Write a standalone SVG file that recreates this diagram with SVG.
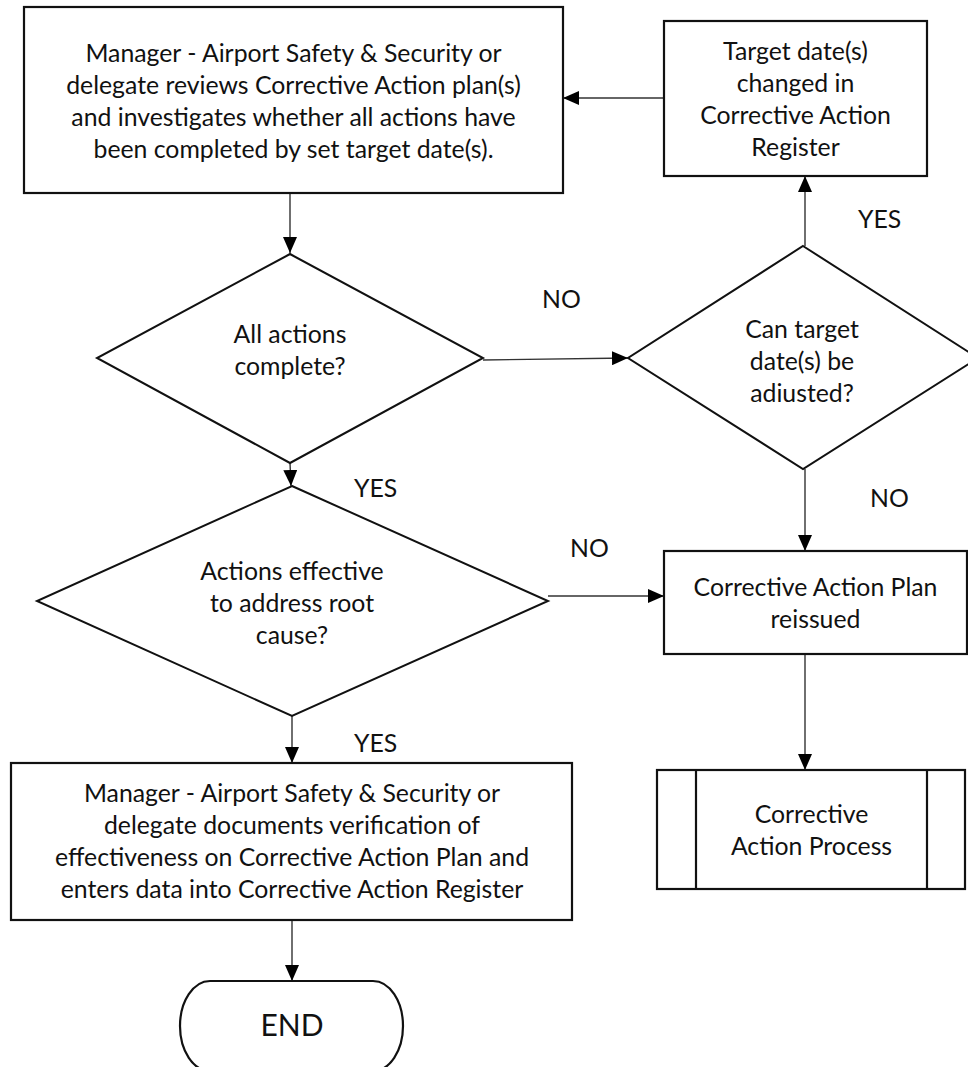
<svg xmlns="http://www.w3.org/2000/svg" width="968" height="1067" viewBox="0 0 968 1067">
<defs>
<style>
.box{fill:#fff;stroke:#111;stroke-width:2.2}
.dia{fill:#fff;stroke:#111;stroke-width:2}
.con{fill:none;stroke:#333;stroke-width:1.4;marker-end:url(#ah)}
text{font-family:Lato,"Open Sans","Liberation Sans",sans-serif;font-size:24.8px;fill:#111;text-anchor:middle}
.lbl{text-anchor:start}
.end{font-size:30px}
</style>
<marker id="ah" viewBox="0 0 16 14" refX="16" refY="7" markerWidth="16" markerHeight="14" markerUnits="userSpaceOnUse" orient="auto">
<path d="M0,0 L16,7 L0,14 z" fill="#000"/>
</marker>
</defs>
<rect width="968" height="1067" fill="#fff"/>
<g id="connectors">
<path class="con" d="M290,193 L290,253"/>
<path class="con" d="M483,360 L628,358"/>
<path class="con" d="M805,246 L805,176"/>
<path class="con" d="M664,98 L563,98"/>
<path class="con" d="M290,463 L291,486"/>
<path class="con" d="M548,596 L664,596"/>
<path class="con" d="M805,469 L805,551"/>
<path class="con" d="M805,654 L805,770"/>
<path class="con" d="M292,716 L292,763"/>
<path class="con" d="M292,920 L292,981"/>
</g>
<g id="labels">
<text class="lbl" x="858" y="228">YES</text>
<text class="lbl" x="542" y="308">NO</text>
<text class="lbl" x="354" y="497">YES</text>
<text class="lbl" x="570" y="557">NO</text>
<text class="lbl" x="870" y="507">NO</text>
<text class="lbl" x="354" y="752">YES</text>
</g>
<g id="review">
<rect class="box" x="24" y="7" width="539" height="186"/>
<text x="293.5" y="62">Manager - Airport Safety &amp; Security or</text>
<text x="293.5" y="94">delegate reviews Corrective Action plan(s)</text>
<text x="293.5" y="126">and investigates whether all actions have</text>
<text x="293.5" y="158">been completed by set target date(s).</text>
</g>
<g id="changed">
<rect class="box" x="664" y="21" width="263" height="155"/>
<text x="795.5" y="60">Target date(s)</text>
<text x="795.5" y="92">changed in</text>
<text x="795.5" y="124">Corrective Action</text>
<text x="795.5" y="156">Register</text>
</g>
<g id="allcomplete">
<polygon class="dia" points="290,254 483,358 290,463 97,358"/>
<text x="290" y="343">All actions</text>
<text x="290" y="375">complete?</text>
</g>
<g id="canadjust">
<polygon class="dia" points="803,246 978,358 803,469 628,358"/>
<text x="802" y="338">Can target</text>
<text x="802" y="370">date(s) be</text>
<text x="802" y="402">adiusted?</text>
</g>
<g id="effective">
<polygon class="dia" points="292,486 548,601 292,716 37,601"/>
<text x="292" y="580">Actions effective</text>
<text x="292" y="612">to address root</text>
<text x="292" y="644">cause?</text>
</g>
<g id="reissued">
<rect class="box" x="664" y="551" width="303" height="103"/>
<text x="815.5" y="596">Corrective Action Plan</text>
<text x="815.5" y="628">reissued</text>
</g>
<g id="process">
<rect class="box" x="657" y="770" width="308" height="119"/>
<line class="box" x1="696" y1="770" x2="696" y2="889"/>
<line class="box" x1="927" y1="770" x2="927" y2="889"/>
<text x="811.5" y="823">Corrective</text>
<text x="811.5" y="855">Action Process</text>
</g>
<g id="documents">
<rect class="box" x="11" y="763" width="561" height="157"/>
<text x="292" y="802">Manager - Airport Safety &amp; Security or</text>
<text x="292" y="834">delegate documents verification of</text>
<text x="292" y="866">effectiveness on Corrective Action Plan and</text>
<text x="292" y="898">enters data into Corrective Action Register</text>
</g>
<g id="end">
<rect class="box" x="180" y="981" width="223" height="90" rx="30" ry="45"/>
<text class="end" x="292" y="1036">END</text>
</g>
</svg>
